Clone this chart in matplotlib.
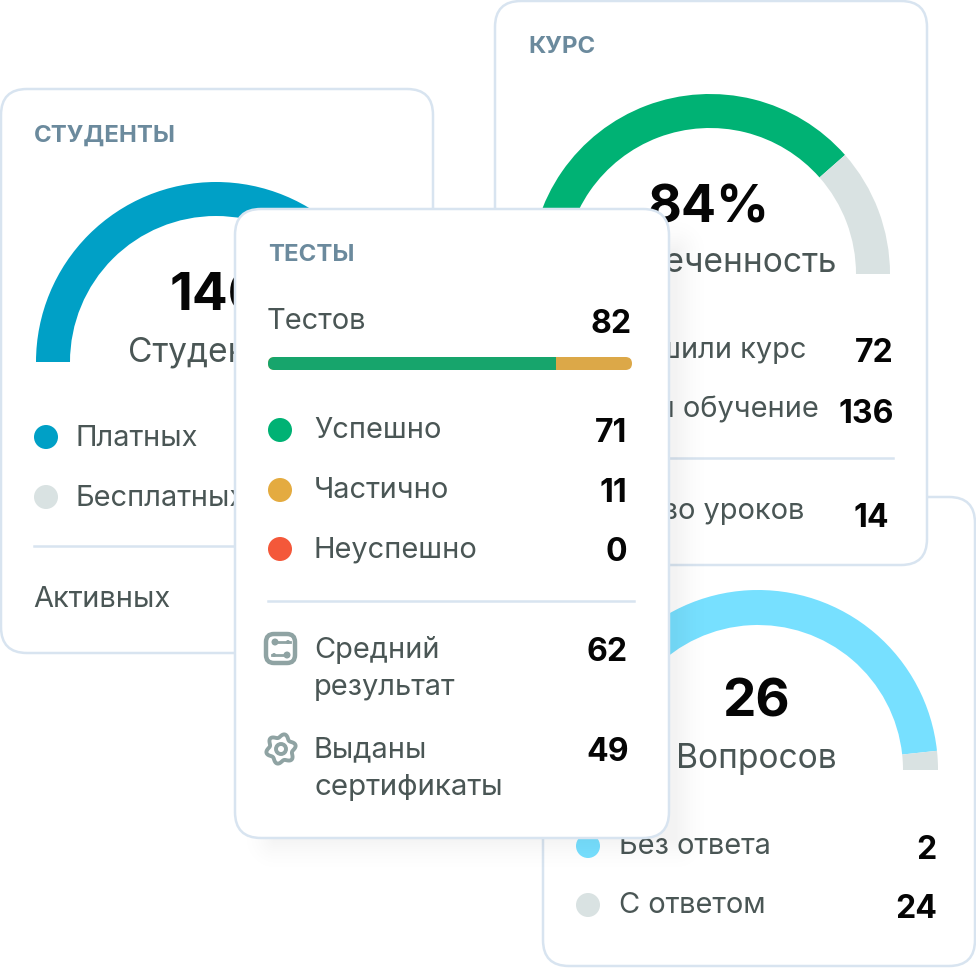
import numpy as np
import matplotlib as mpl
mpl.use('Agg')
import matplotlib.pyplot as plt
from matplotlib.patches import FancyBboxPatch, Wedge, Circle, Polygon, Rectangle

plt.rcParams['font.family'] = ['Inter', 'DejaVu Sans']

# card titles
title_students = 'СТУДЕНТЫ'
title_course = 'КУРС'
title_tests = 'ТЕСТЫ'

# gauges: shares of the half ring, as drawn
students_gauge = [100, 0]
course_gauge = [77, 23]
questions_gauge = [96.6, 3.4]

# rows
students_labels = ['Платных', 'Бесплатных', 'Активных']
course_labels = ['Завершили курс', 'Начали обучение', 'Количество уроков']
course_values = [72, 136, 14]
question_labels = ['Без ответа', 'С ответом']
question_values = [2, 24]
test_labels = ['Успешно', 'Частично', 'Неуспешно']
test_values = [71, 11, 0]
test_colors = ['#00b274', '#e4ab40', '#f4583a']
bar_shares = [79, 21]

W, H = 976, 968
fig = plt.figure(figsize=(W / 100, H / 100), dpi=100)
ax = fig.add_axes([0, 0, 1, 1])
ax.set_xlim(0, W)
ax.set_ylim(H, 0)
ax.axis('off')

EDGE = '#d8e4f0'
TXT = '#4a5655'
HEAD = '#6b8a9d'
GREY = '#d9e2e2'
BLACK = '#050505'


def card(x0, y0, x1, y1, z):
    p = FancyBboxPatch((x0, y0), x1 - x0, y1 - y0, boxstyle='round,pad=0,rounding_size=26',
                       fc='white', ec=EDGE, lw=1.8, zorder=z)
    ax.add_patch(p)


def gauge(cx, cy, r_out, r_in, frac, col, rest, z):
    # y axis is inverted so angles run clockwise from the left side
    split = 180 + 180 * frac
    ax.add_patch(Wedge((cx, cy), r_out, 180, split, width=r_out - r_in, fc=col, ec='none', zorder=z))
    if frac < 1:
        ax.add_patch(Wedge((cx, cy), r_out, split, 360, width=r_out - r_in, fc=rest, ec='none', zorder=z))


def txt(x, y, s, size=29, col=TXT, weight='normal', ha='left', z=2):
    ax.text(x, y + size * 0.1, s, fontsize=size * 0.72, color=col, fontweight=weight,
            ha=ha, va='center', zorder=z)


def dot(x, y, col, z):
    ax.add_patch(Circle((x, y), 12, fc=col, ec='none', zorder=z))


# students card
z = 1
card(1, 89, 433, 653, z)
txt(34, 133, title_students, 24, HEAD, 'bold', z=z)
gauge(216, 362, 180, 146, students_gauge[0] / sum(students_gauge), '#00a0c6', GREY, z)
txt(216, 292, '146', 53, BLACK, 'bold', 'center', z)
txt(215, 349, 'Студентов', 33.5, TXT, ha='center', z=z)
dot(46, 437, '#00a0c6', z)
dot(46, 497, GREY, z)
txt(76, 436, students_labels[0], z=z)
txt(76, 496, students_labels[1], z=z)
ax.plot([34, 400], [546, 546], color=EDGE, lw=1.8, zorder=z)
txt(33, 597, students_labels[2], z=z)

# questions card, under the course card
z = 2
card(543, 497, 975, 966, z)
gauge(758, 770, 180, 145, questions_gauge[0] / sum(questions_gauge), '#77e0ff', GREY, z)
txt(756, 698, str(sum(question_values)), 53, BLACK, 'bold', 'center', z)
txt(756, 756, 'Вопросов', 33.5, TXT, ha='center', z=z)
for lab, val, y, col in zip(question_labels, question_values, [844, 903], ['#77e0ff', GREY]):
    dot(588, y + 2, col, z)
    txt(619, y, lab, z=z)
    txt(937, y + 3, str(val), 32, BLACK, 'bold', 'right', z)

# course card
z = 3
card(495, 1, 927, 565, z)
txt(528, 45, title_course, 24, HEAD, 'bold', z=z)
gauge(710, 274, 180, 146, course_gauge[0] / sum(course_gauge), '#00b274', GREY, z)
txt(709, 204, '84%', 52, BLACK, 'bold', 'center', z)
txt(710, 260, 'Вовлеченность', 33.5, TXT, ha='center', z=z)
for lab, y, xr in zip(course_labels, [348, 407, 509], [806, 819, 804]):
    txt(xr, y, lab, ha='right', z=z)
for val, y, xr in zip(course_values, [350, 411, 515], [894, 894, 889]):
    txt(xr, y, str(val), 32, BLACK, 'bold', 'right', z)
ax.plot([528, 893], [458, 458], color=EDGE, lw=1.8, zorder=z)

# soft shadow of the tests card
yy, xx = np.mgrid[200:900, 220:740]
dx = np.maximum(np.maximum(275 - xx, xx - 675), 0)
dy = np.maximum(np.maximum(250 - yy, yy - 838), 0)
dist = np.hypot(dx, dy)
shade = np.zeros(dist.shape + (4,))
shade[..., 3] = 0.05 * np.clip(1 - dist / 40, 0, 1) ** 2
ax.imshow(shade, extent=(220, 740, 900, 200), aspect='auto', zorder=5, interpolation='bilinear')
ax.set_xlim(0, W)
ax.set_ylim(H, 0)

# tests card goes on top
z = 6
card(235, 209, 669, 838, z)
txt(268, 253, title_tests, 24, HEAD, 'bold', z=z)
txt(267, 319, 'Тестов', z=z)
txt(632, 321, str(sum(test_values)), 32, BLACK, 'bold', 'right', z)

# progress bar, square where the two colours meet
bar_w = 364
split_x = bar_w * bar_shares[0] / sum(bar_shares)
bar = FancyBboxPatch((268, 357), bar_w, 13, boxstyle='round,pad=0,rounding_size=6.5',
                     fc='#dca848', ec='none', zorder=z)
ax.add_patch(bar)
green = Rectangle((268, 357), split_x, 13, fc='#17a56c', ec='none', zorder=z)
ax.add_patch(green)
green.set_clip_path(bar)

for lab, val, col, y in zip(test_labels, test_values, test_colors, [428, 488, 547]):
    dot(280, y + 2, col, z)
    txt(314, y, lab, z=z)
    txt(627, y + 2, str(val), 32, BLACK, 'bold', 'right', z)
ax.plot([268, 634], [601, 601], color=EDGE, lw=1.8, zorder=z)

txt(314, 647, 'Средний', z=z)
txt(314, 685, 'результат', z=z)
txt(628, 649, '62', 32, BLACK, 'bold', 'right', z)
txt(314, 747, 'Выданы', z=z)
txt(315, 785, 'сертификаты', 29.5, z=z)
txt(629, 749, '49', 32, BLACK, 'bold', 'right', z)

# icons
ICON = '#8fa3a3'
ax.add_patch(FancyBboxPatch((266, 634), 29, 29, boxstyle='round,pad=0,rounding_size=8',
                            fc='none', ec=ICON, lw=3.2, zorder=z))
ax.plot([274, 290], [642, 642], color=ICON, lw=2, zorder=z)
ax.plot([272, 288], [655, 655], color=ICON, lw=2, zorder=z)
ax.add_patch(Circle((275, 642), 3.5, fc=ICON, ec='none', zorder=z))
ax.add_patch(Circle((288, 642), 2, fc=ICON, ec='none', zorder=z))
ax.add_patch(Circle((287, 655), 3.5, fc=ICON, ec='none', zorder=z))
ax.add_patch(Circle((274, 655), 2, fc=ICON, ec='none', zorder=z))

theta = np.linspace(0, 2 * np.pi, 180, endpoint=False)
rad = 13.2 + 1.8 * np.cos(6 * theta + np.pi / 2)
gear = np.column_stack([281 + rad * np.cos(theta), 749 + rad * np.sin(theta)])
ax.add_patch(Polygon(gear, closed=True, fc='none', ec=ICON, lw=2.8, zorder=z))
ax.add_patch(Circle((281, 749), 5, fc='none', ec=ICON, lw=2.8, zorder=z))

fig.savefig('out.png', dpi=100, facecolor='white')
